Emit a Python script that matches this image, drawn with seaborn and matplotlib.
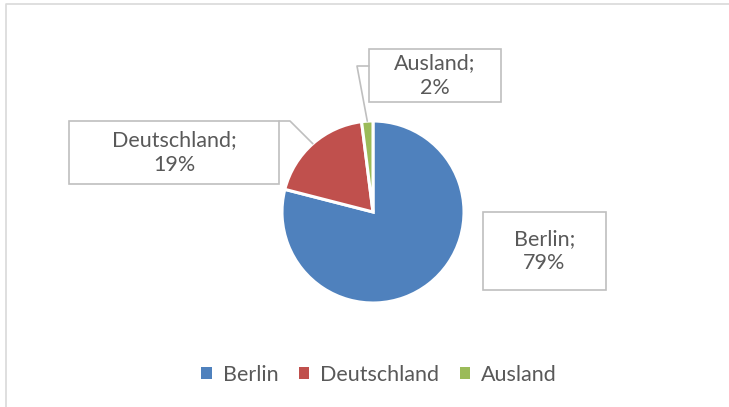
import matplotlib

matplotlib.use("Agg")
import matplotlib.pyplot as plt
import numpy as np
import seaborn as sns
from matplotlib.patches import Patch, Rectangle


REGIONS = ["Berlin", "Deutschland", "Ausland"]
SHARES = [79, 19, 2]
COLORS = ["#4F81BD", "#C0504D", "#9BBB59"]

TEXT_COLOR = "#595959"
BOX_EDGE = "#BFBFBF"
W, H = 729, 407

# label boxes in pixel coords (left, top, right, bottom)
BOXES = {
    "Berlin": (483, 212, 606, 290),
    "Deutschland": (69, 121, 279, 184),
    "Ausland": (369, 49, 501, 102),
}
# leader line start points (pixel coords), ending on the wedge
LEADERS = {
    "Deutschland": [(279, 121), (290, 121)],
    "Ausland": [(369, 66), (357, 66)],
}


def flip(x, y):
    return x, H - y


sns.set_theme(style="white")
plt.rcParams["font.family"] = ["Lato", "DejaVu Sans"]

fig = plt.figure(figsize=(W / 100, H / 100), dpi=100)
ax = fig.add_axes([0, 0, 1, 1])

wedges, _ = ax.pie(
    SHARES,
    colors=COLORS,
    startangle=90,
    counterclock=False,
    center=flip(373, 212),
    radius=91,
    explode=[0, 0.045, 0.03],
    wedgeprops=dict(edgecolor="white", linewidth=2.2),
    frame=True,
)
ax.set_xlim(0, W)
ax.set_ylim(0, H)
ax.set_aspect("equal")
ax.axis("off")

# chart area border: only top and left edges are visible
ax.plot([6, 6, 729], [0, H - 4, H - 4], color="#D9D9D9", linewidth=1.2)

for name, wedge in zip(REGIONS, wedges):
    share = SHARES[REGIONS.index(name)]
    x0, y0, x1, y1 = BOXES[name]
    ax.add_patch(Rectangle(flip(x0, y1), x1 - x0, y1 - y0, fill=False,
                           edgecolor=BOX_EDGE, linewidth=1.2))
    cx, cy = flip((x0 + x1) / 2, (y0 + y1) / 2)
    ax.text(cx, cy, f"{name};\n{share}%", ha="center", va="center",
            fontsize=15.5, color=TEXT_COLOR, linespacing=1.3)
    if name in LEADERS:
        mid = np.deg2rad((wedge.theta1 + wedge.theta2) / 2)
        ex = wedge.center[0] + wedge.r * np.cos(mid)
        ey = wedge.center[1] + wedge.r * np.sin(mid)
        pts = [flip(*p) for p in LEADERS[name]] + [(ex, ey)]
        xs, ys = zip(*pts)
        ax.plot(xs, ys, color=BOX_EDGE, linewidth=1.2)

handles = [Patch(facecolor=c, edgecolor="none") for c in COLORS]
leg = fig.legend(
    handles,
    REGIONS,
    loc="center",
    bbox_to_anchor=(379 / W, 1 - 375 / H),
    ncol=3,
    frameon=False,
    fontsize=15.5,
    handlelength=0.5,
    handleheight=0.5,
    handletextpad=0.5,
    columnspacing=0.95,
)
for t in leg.get_texts():
    t.set_color(TEXT_COLOR)

fig.savefig("out.png", dpi=100)
